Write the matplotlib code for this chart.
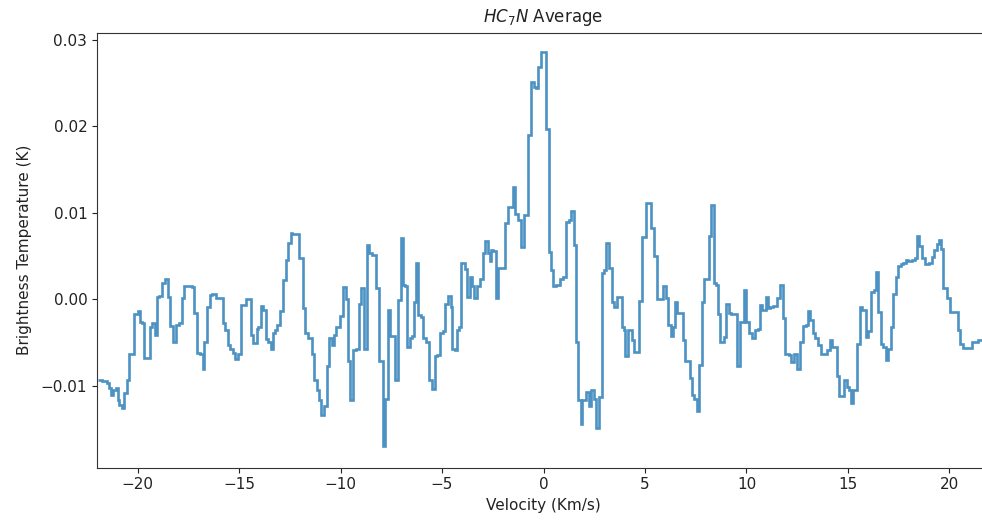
import numpy as np
import matplotlib
matplotlib.use("Agg")
import matplotlib.pyplot as plt

# channel edges (km/s) where the averaged spectrum steps to a new level
vel_edges = [
    -21.95, -21.75, -21.52, -21.40, -21.30, -21.19, -21.07, -20.97, -20.91, -20.78,
    -20.65, -20.53, -20.40, -20.20, -19.99, -19.87, -19.79, -19.66, -19.41, -19.27,
    -19.13, -19.04, -18.94, -18.81, -18.64, -18.51, -18.38, -18.25, -18.12, -17.98,
    -17.82, -17.69, -17.33, -17.20, -17.08, -16.92, -16.80, -16.74, -16.59, -16.43,
    -16.31, -16.15, -15.77, -15.69, -15.55, -15.44, -15.32, -15.19, -15.06, -14.90,
    -14.66, -14.43, -14.30, -14.11, -14.06, -13.94, -13.81, -13.68, -13.56, -13.45,
    -13.35, -13.24, -13.12, -12.99, -12.86, -12.69, -12.58, -12.46, -12.37, -12.17,
    -12.04, -11.87, -11.76, -11.59, -11.43, -11.31, -11.18, -11.05, -10.94, -10.82,
    -10.69, -10.56, -10.43, -10.33, -10.20, -10.03, -9.87, -9.74, -9.62, -9.51,
    -9.38, -9.25, -9.08, -8.97, -8.85, -8.69, -8.59, -8.43, -8.23, -8.10,
    -7.93, -7.82, -7.65, -7.57, -7.34, -7.18, -7.04, -6.93, -6.81, -6.72,
    -6.60, -6.49, -6.39, -6.27, -6.16, -6.03, -5.94, -5.78, -5.62, -5.50,
    -5.37, -5.24, -5.12, -4.96, -4.84, -4.71, -4.58, -4.52, -4.38, -4.25,
    -4.14, -4.06, -3.89, -3.76, -3.64, -3.53, -3.40, -3.27, -3.15, -2.99,
    -2.87, -2.74, -2.66, -2.58, -2.50, -2.33, -2.22, -1.89, -1.76, -1.51,
    -1.40, -1.26, -1.10, -0.97, -0.74, -0.61, -0.48, -0.36, -0.25, -0.12,
    0.12, 0.25, 0.36, 0.48, 0.61, 0.80, 0.94, 1.13, 1.26, 1.35,
    1.48, 1.59, 1.72, 1.84, 1.92, 2.09, 2.22, 2.33, 2.50, 2.61,
    2.74, 2.87, 3.00, 3.07, 3.23, 3.37, 3.48, 3.60, 3.86, 3.97,
    4.02, 4.14, 4.35, 4.47, 4.71, 4.84, 5.07, 5.29, 5.45, 5.57,
    5.90, 6.03, 6.11, 6.27, 6.39, 6.49, 6.60, 6.85, 6.98, 7.21,
    7.32, 7.44, 7.54, 7.65, 7.82, 7.93, 8.03, 8.14, 8.26, 8.39,
    8.52, 8.59, 8.72, 8.88, 9.01, 9.13, 9.24, 9.54, 9.67, 9.87,
    10.00, 10.11, 10.28, 10.44, 10.56, 10.66, 10.77, 10.94, 11.05, 11.18,
    11.31, 11.51, 11.67, 11.81, 11.92, 12.09, 12.20, 12.33, 12.50, 12.66,
    12.79, 12.91, 13.02, 13.15, 13.28, 13.40, 13.51, 13.65, 13.97, 14.10,
    14.22, 14.45, 14.56, 14.83, 14.94, 15.06, 15.16, 15.27, 15.44, 15.60,
    15.71, 15.88, 15.98, 16.14, 16.26, 16.37, 16.50, 16.63, 16.75, 16.86,
    16.99, 17.13, 17.24, 17.36, 17.49, 17.62, 17.73, 17.85, 17.98, 18.14,
    18.28, 18.39, 18.51, 18.67, 18.80, 18.97, 19.13, 19.26, 19.38, 19.49,
    19.59, 19.70, 19.87, 20.03, 20.41, 20.53, 20.69, 21.10, 21.43, 22.00,
]

# brightness temperature in each channel (mK)
tb_mk = [
    -9.3, -9.5, -9.7, -10.3, -11.1, -10.5, -10.3, -11.7, -12.2, -12.6,
    -10.8, -9.3, -6.3, -1.7, -1.3, -2.6, -2.7, -6.8, -3.2, -2.8,
    -4.1, 0.3, 0.4, 1.9, 2.3, 0.3, -3.1, -4.9, -3.0, -2.8,
    0.1, 1.5, 1.4, -1.6, -6.2, -6.3, -8.1, -5.0, -0.9, 0.5,
    0.6, 0.2, -2.7, -3.6, -5.3, -5.8, -6.2, -6.9, -6.3, -0.7,
    0.0, -4.1, -5.1, -3.4, -3.2, -0.8, -1.2, -4.6, -4.9, -5.7,
    -3.9, -3.5, -3.0, -1.3, 2.2, 4.6, 6.5, 7.7, 7.6, 7.5,
    4.8, -1.0, -3.9, -4.5, -6.3, -9.3, -10.5, -11.7, -13.4, -12.4,
    -7.7, -4.5, -5.3, -4.1, -3.2, -1.9, 1.4, 0.0, -7.2, -11.7,
    -5.9, -5.7, -0.5, 1.3, -5.8, 6.3, 5.3, 5.1, 1.3, -7.2,
    -17.0, -11.5, -1.2, -4.3, -9.3, -0.1, 7.1, 1.7, 1.5, -5.5,
    -4.5, -4.3, -0.3, 4.2, -1.8, -2.0, -4.5, -4.9, -9.3, -10.4,
    -6.6, -6.4, -3.9, -3.7, -0.5, 0.4, -0.9, -5.8, -5.9, -3.5,
    -3.2, 4.2, 3.5, 0.3, 2.6, 1.5, 0.1, 1.5, 2.3, 5.3,
    6.7, 5.3, 4.4, 5.7, 5.6, 0.1, 3.6, 8.8, 10.7, 13.0,
    9.9, 9.2, 6.1, 9.8, 19.0, 25.1, 24.6, 24.5, 26.9, 28.6,
    19.7, 5.5, 3.4, 1.5, 1.7, 2.4, 2.6, 9.0, 9.2, 10.2,
    6.3, -5.0, -11.7, -14.4, -11.7, -10.7, -12.4, -10.5, -11.5, -14.9,
    -11.3, 3.0, 3.4, 6.5, 3.6, -0.3, -0.9, 0.3, -3.2, -3.5,
    -6.6, -3.6, -4.7, -6.1, -0.2, 7.2, 11.1, 8.2, 5.0, 0.0,
    1.5, 0.1, -3.0, -4.2, -3.2, -0.3, -1.6, -4.7, -7.2, -9.1,
    -11.1, -11.5, -12.9, -7.6, -0.3, 2.3, 2.4, 7.3, 10.9, 1.9,
    1.7, -1.7, -4.9, -4.4, -0.5, -1.6, -1.7, -7.7, -2.6, 1.1,
    -2.6, -3.9, -4.5, -3.6, -3.4, -0.7, -1.2, 0.3, -1.0, -0.9,
    -0.8, 0.1, 1.7, -2.2, -6.3, -6.4, -7.3, -6.3, -8.1, -4.9,
    -3.1, -3.0, -1.4, -2.4, -3.9, -4.5, -5.3, -6.3, -5.9, -4.7,
    -5.5, -8.9, -11.2, -9.3, -10.1, -10.5, -12.0, -10.5, -5.2, -0.9,
    -1.2, -4.4, -3.7, 0.9, 1.1, 3.1, -1.5, -5.2, -5.5, -7.0,
    -5.8, -3.2, 0.6, 2.6, 3.9, 4.1, 4.2, 4.5, 4.4, 4.6,
    4.8, 7.3, 6.2, 4.8, 4.1, 4.2, 4.9, 5.7, 6.4, 6.9,
    5.8, 1.3, 0.2, -1.5, -3.5, -5.2, -5.6, -4.9, -4.7,
]

edges = np.array(vel_edges)
tb = np.array(tb_mk) * 1e-3

fig = plt.figure(figsize=(9.82, 5.23), dpi=100)
# axes run a little past the right edge, as in the cropped original
ax = fig.add_axes([97 / 982, 1 - 467.5 / 523, 893 / 982, 434.5 / 523])
ax.stairs(tb, edges, baseline=None, color='#1f77b4', alpha=0.8, linewidth=1.9)

ax.set_xlim(-22, 22)
ax.set_ylim(-0.01947, 0.03082)
ax.set_xticks([-20, -15, -10, -5, 0, 5, 10, 15, 20])
ax.set_yticks([-0.01, 0.0, 0.01, 0.02, 0.03])
ax.tick_params(labelsize=11, colors='#222222')
for s in ax.spines.values():
    s.set_color('#333333')

ax.set_title('$HC_7N$ Average', fontsize=12, color='#222222', pad=8)
ax.set_xlabel('Velocity (Km/s)', fontsize=11, color='#222222')
ax.set_ylabel('Brightness Temperature (K)', fontsize=11, color='#222222', labelpad=6)

fig.savefig('out.png', dpi=100)
